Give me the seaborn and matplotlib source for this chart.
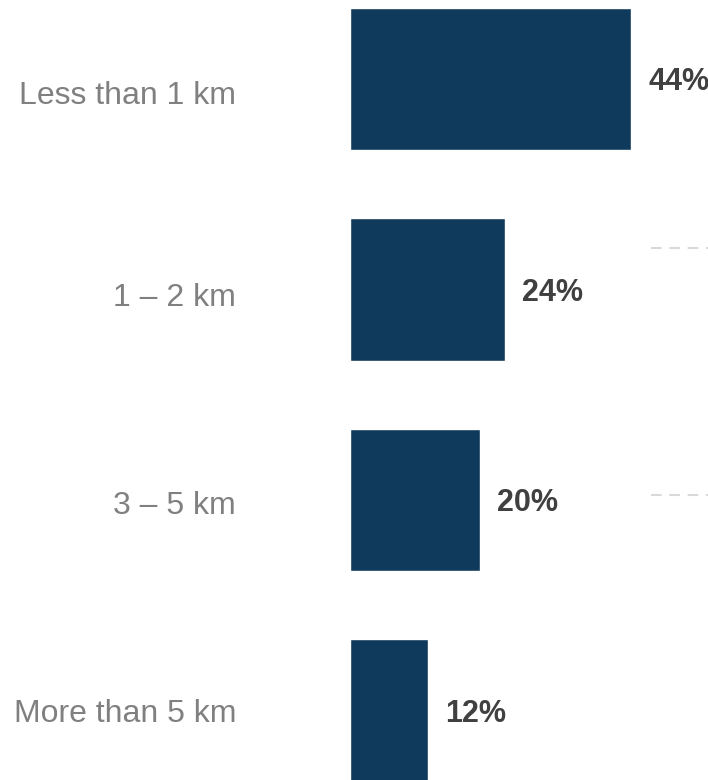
import matplotlib
matplotlib.use('Agg')
import matplotlib.pyplot as plt
import seaborn as sns

sns.set_theme(style='white')
plt.rcParams['font.family'] = ['Liberation Sans', 'DejaVu Sans']

# data
categories = ['Less than 1 km', '1 \u2013 2 km', '3 \u2013 5 km', 'More than 5 km']
shares = [43.6, 24.0, 20.2, 12.1]
labels = ['44%', '24%', '20%', '12%']

bar_color = '#0f3a5c'
cat_color = '#808080'
val_color = '#404040'

px_per_unit = 6.45

fig = plt.figure(figsize=(7.08, 7.80), dpi=100)
ax = fig.add_axes([350 / 708, 0, 358 / 708, 1])

sns.barplot(x=shares, y=categories, orient='h', color=bar_color,
            saturation=1, width=0.675, ax=ax)

ax.set_xlim(0, 358 / px_per_unit)
ax.set_ylim(3.33, -0.375)

# faint dashed guides on the right
for yy in (0.803, 1.976):
    ax.axhline(yy, xmin=301 / 358, xmax=1, color='#d9d9d9', lw=1.5,
               linestyle=(0, (5.1, 3.7)), zorder=0)

for i, (v, lab) in enumerate(zip(shares, labels)):
    ax.annotate(lab, xy=(v, i), xytext=(12.3, -2.3), textcoords='offset points',
                ha='left', va='center', fontsize=22, fontweight='bold',
                color=val_color)

# category labels sit slightly off the bar centres in the original
ax.set_yticks([0.062, 1.026, 2.014, 3.0])
ax.set_yticklabels(categories)

ax.set_xlabel('')
ax.set_ylabel('')
ax.set_xticks([])
ax.tick_params(axis='y', length=0, pad=82, labelsize=23, labelcolor=cat_color)
for s in ax.spines.values():
    s.set_visible(False)

fig.savefig('out.png', dpi=100)
